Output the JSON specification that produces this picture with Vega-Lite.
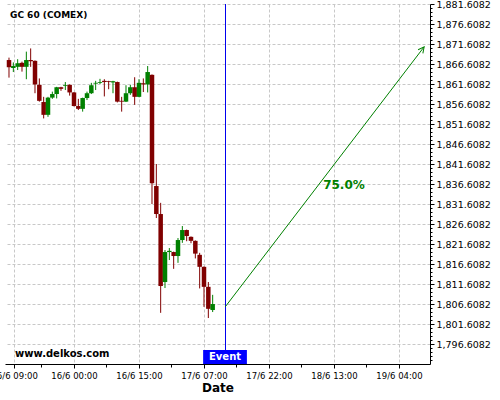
{
  "$schema": "https://vega.github.io/schema/vega-lite/v6.json",
  "width": 425,
  "height": 360,
  "autosize": {"type": "none"},
  "padding": {"left": 5, "top": 4, "right": 70, "bottom": 36},
  "background": "white",
  "config": {
    "view": {"stroke": null},
    "font": "DejaVu Sans",
    "scale": {"continuousPadding": 0},
    "axis": {"domainColor": "#000", "tickColor": "#000", "labelColor": "#000", "titleColor": "#000", "labelFont": "DejaVu Sans", "titleFont": "DejaVu Sans", "gridColor": "#c8c8c8", "gridDash": [3, 2], "gridWidth": 1, "domainWidth": 1, "tickWidth": 1}
  },
  "datasets": {
    "candles": [
      {"k": -15, "o": 1867.6, "h": 1868.2, "l": 1863.2, "c": 1865.8},
      {"k": -14, "o": 1865.6, "h": 1867.0, "l": 1864.6, "c": 1866.1},
      {"k": -13, "o": 1865.9, "h": 1867.8, "l": 1865.1, "c": 1866.8},
      {"k": -12, "o": 1866.9, "h": 1867.2, "l": 1864.7, "c": 1865.9},
      {"k": -11, "o": 1865.9, "h": 1869.7, "l": 1862.8, "c": 1867.6},
      {"k": -10, "o": 1867.6, "h": 1870.5, "l": 1865.9, "c": 1867.3},
      {"k": -9, "o": 1867.4, "h": 1867.5, "l": 1859.3, "c": 1861.5},
      {"k": -8, "o": 1861.4, "h": 1863.0, "l": 1857.2, "c": 1857.4},
      {"k": -7, "o": 1857.1, "h": 1858.4, "l": 1853.0, "c": 1853.9},
      {"k": -6, "o": 1853.9, "h": 1858.4, "l": 1853.4, "c": 1858.2},
      {"k": -5, "o": 1858.2, "h": 1859.7, "l": 1857.9, "c": 1859.1},
      {"k": -4, "o": 1859.1, "h": 1860.9, "l": 1858.0, "c": 1860.8},
      {"k": -3, "o": 1860.8, "h": 1860.9, "l": 1859.9, "c": 1860.4},
      {"k": -2, "o": 1861.1, "h": 1862.1, "l": 1860.1, "c": 1861.3},
      {"k": -1, "o": 1861.4, "h": 1861.5, "l": 1858.7, "c": 1859.5},
      {"k": 0, "o": 1859.5, "h": 1859.6, "l": 1856.0, "c": 1856.1},
      {"k": 1, "o": 1856.1, "h": 1857.9, "l": 1855.1, "c": 1855.4},
      {"k": 2, "o": 1855.4, "h": 1858.2, "l": 1854.7, "c": 1858.1},
      {"k": 3, "o": 1858.1, "h": 1859.7, "l": 1857.6, "c": 1859.3},
      {"k": 4, "o": 1859.3, "h": 1861.9, "l": 1859.1, "c": 1861.3},
      {"k": 5, "o": 1861.7, "h": 1862.4, "l": 1860.1, "c": 1861.9},
      {"k": 6, "o": 1861.9, "h": 1862.9, "l": 1861.6, "c": 1862.1},
      {"k": 7, "o": 1862.4, "h": 1862.8, "l": 1858.5, "c": 1862.1},
      {"k": 8, "o": 1862.3, "h": 1862.4, "l": 1860.3, "c": 1862.1},
      {"k": 9, "o": 1862.0, "h": 1862.4, "l": 1859.3, "c": 1862.3},
      {"k": 10, "o": 1862.1, "h": 1862.2, "l": 1857.0, "c": 1857.2},
      {"k": 11, "o": 1857.4, "h": 1858.4, "l": 1854.7, "c": 1857.2},
      {"k": 12, "o": 1857.2, "h": 1861.3, "l": 1857.1, "c": 1859.3},
      {"k": 13, "o": 1859.3, "h": 1861.4, "l": 1858.9, "c": 1860.8},
      {"k": 14, "o": 1860.8, "h": 1863.3, "l": 1856.4, "c": 1858.4},
      {"k": 15, "o": 1858.4, "h": 1862.8, "l": 1858.3, "c": 1861.9},
      {"k": 16, "o": 1861.8, "h": 1863.0, "l": 1859.6, "c": 1861.5},
      {"k": 17, "o": 1861.5, "h": 1866.1, "l": 1859.5, "c": 1864.6},
      {"k": 18, "o": 1863.9, "h": 1864.0, "l": 1831.6, "c": 1836.8},
      {"k": 19, "o": 1836.1, "h": 1841.6, "l": 1828.1, "c": 1829.1},
      {"k": 20, "o": 1829.1, "h": 1831.9, "l": 1804.4, "c": 1811.1},
      {"k": 21, "o": 1812.1, "h": 1820.1, "l": 1810.6, "c": 1819.6},
      {"k": 22, "o": 1819.6, "h": 1820.6, "l": 1817.6, "c": 1819.9},
      {"k": 23, "o": 1819.6, "h": 1819.7, "l": 1815.4, "c": 1818.6},
      {"k": 24, "o": 1818.6, "h": 1823.1, "l": 1816.9, "c": 1822.6},
      {"k": 25, "o": 1822.6, "h": 1826.1, "l": 1821.9, "c": 1825.1},
      {"k": 26, "o": 1825.1, "h": 1825.2, "l": 1822.3, "c": 1823.6},
      {"k": 27, "o": 1823.4, "h": 1823.5, "l": 1821.8, "c": 1822.4},
      {"k": 28, "o": 1822.4, "h": 1822.5, "l": 1818.0, "c": 1819.2},
      {"k": 29, "o": 1818.9, "h": 1819.4, "l": 1810.5, "c": 1815.9},
      {"k": 30, "o": 1815.9, "h": 1816.0, "l": 1805.9, "c": 1810.9},
      {"k": 31, "o": 1810.9, "h": 1812.1, "l": 1803.1, "c": 1805.4},
      {"k": 32, "o": 1805.1, "h": 1808.9, "l": 1804.6, "c": 1806.6}
    ],
    "arrow": [
      {"x": 34.9, "y": 1805.9},
      {"x": 80.8, "y": 1870.9}
    ],
    "arrowhead": [{"x": 80.8, "y": 1870.9}],
    "event": [{"x": 34.965}],
    "eventbox": [{"x": 29.8, "x2": 39.9, "y": 1791.6082, "y2": 1795.1, "yt": 1793.4, "xt": 34.85, "t": "Event"}],
    "labels": [
      {"x": 62.3, "y": 1836.4, "t": "75.0%"}
    ],
    "title": [{"x": -14.77, "y": 1878.9, "t": "GC 60 (COMEX)"}],
    "watermark": [{"x": -13.6, "y": 1794.1, "t": "www.delkos.com"}]
  },
  "layer": [
    {
      "data": {"name": "candles"},
      "mark": {"type": "rule", "strokeWidth": 1},
      "encoding": {
        "x": {
          "field": "k", "type": "quantitative",
          "scale": {"domain": [-15.923, 82.154], "nice": false, "zero": false, "padding": 0},
          "axis": {
            "orient": "bottom",
            "title": "Date",
            "titleFontSize": 12,
            "titleFontWeight": "bold",
            "titlePadding": 3,
            "values": [-13.8, -7.5, 0, 7.5, 15, 22.5, 30, 37.5, 45, 52.5, 60, 67.5, 75],
            "tickCount": 1000,
            "labelExpr": "datum.value < -10 ? '15/6 09:00' : datum.value == 0 ? '16/6 00:00' : datum.value == 15 ? '16/6 15:00' : datum.value == 30 ? '17/6 07:00' : datum.value == 45 ? '17/6 22:00' : datum.value == 60 ? '18/6 13:00' : datum.value == 75 ? '19/6 04:00' : ''",
            "labelFontSize": 8.5,
            "labelFlush": false,
            "labelOverlap": false,
            "labelBound": false,
            "labelPadding": 3,
            "tickSize": {"condition": {"test": "datum.value % 15 == 0 || datum.value < -10", "value": 4}, "value": 3},
            "grid": true,
            "gridOpacity": {"condition": {"test": "datum.value % 15 == 0 || datum.value < -10", "value": 1}, "value": 0}
          }
        },
        "y": {
          "field": "l", "type": "quantitative",
          "scale": {"domain": [1791.6082, 1881.6082], "nice": false, "zero": false, "padding": 0},
          "axis": {
            "orient": "right",
            "title": null,
            "values": [1792.6082,1793.6082,1794.6082,1795.6082,1796.6082,1797.6082,1798.6082,1799.6082,1800.6082,1801.6082,1802.6082,1803.6082,1804.6082,1805.6082,1806.6082,1807.6082,1808.6082,1809.6082,1810.6082,1811.6082,1812.6082,1813.6082,1814.6082,1815.6082,1816.6082,1817.6082,1818.6082,1819.6082,1820.6082,1821.6082,1822.6082,1823.6082,1824.6082,1825.6082,1826.6082,1827.6082,1828.6082,1829.6082,1830.6082,1831.6082,1832.6082,1833.6082,1834.6082,1835.6082,1836.6082,1837.6082,1838.6082,1839.6082,1840.6082,1841.6082,1842.6082,1843.6082,1844.6082,1845.6082,1846.6082,1847.6082,1848.6082,1849.6082,1850.6082,1851.6082,1852.6082,1853.6082,1854.6082,1855.6082,1856.6082,1857.6082,1858.6082,1859.6082,1860.6082,1861.6082,1862.6082,1863.6082,1864.6082,1865.6082,1866.6082,1867.6082,1868.6082,1869.6082,1870.6082,1871.6082,1872.6082,1873.6082,1874.6082,1875.6082,1876.6082,1877.6082,1878.6082,1879.6082,1880.6082,1881.6082],
            "tickCount": 1000,
            "labelExpr": "abs((datum.value - 1796.6082) / 5 - round((datum.value - 1796.6082) / 5)) < 0.01 ? format(datum.value, ',.4f') : ''",
            "labelFontSize": 9.5,
            "labelOverlap": false,
            "labelFlush": false,
            "labelPadding": 2,
            "tickSize": {"condition": {"test": "abs((datum.value - 1796.6082) / 5 - round((datum.value - 1796.6082) / 5)) < 0.01", "value": 4}, "value": 2},
            "grid": true,
            "gridOpacity": {"condition": {"test": "abs((datum.value - 1796.6082) / 5 - round((datum.value - 1796.6082) / 5)) < 0.01", "value": 1}, "value": 0}
          }
        },
        "y2": {"field": "h"},
        "color": {"condition": {"test": "datum.c < datum.o", "value": "#800000"}, "value": "#008000"}
      }
    },
    {
      "data": {"name": "candles"},
      "mark": {"type": "bar", "size": 4.5},
      "encoding": {
        "x": {"field": "k", "type": "quantitative", "scale": {"domain": [-15.923, 82.154], "nice": false, "zero": false, "padding": 0}},
        "y": {"field": "o", "type": "quantitative", "scale": {"domain": [1791.6082, 1881.6082], "nice": false, "zero": false, "padding": 0}},
        "y2": {"field": "c"},
        "color": {"condition": {"test": "datum.c < datum.o", "value": "#800000"}, "value": "#008000"}
      }
    },
    {
      "data": {"name": "event"},
      "mark": {"type": "rule", "color": "#0000ee", "strokeWidth": 1},
      "encoding": {
        "x": {"field": "x", "type": "quantitative", "scale": {"domain": [-15.923, 82.154], "nice": false, "zero": false, "padding": 0}}
      }
    },
    {
      "data": {"name": "arrow"},
      "mark": {"type": "line", "color": "#008000", "strokeWidth": 1},
      "encoding": {
        "x": {"field": "x", "type": "quantitative", "scale": {"domain": [-15.923, 82.154], "nice": false, "zero": false, "padding": 0}},
        "y": {"field": "y", "type": "quantitative", "scale": {"domain": [1791.6082, 1881.6082], "nice": false, "zero": false, "padding": 0}}
      }
    },
    {
      "data": {"name": "arrowhead"},
      "mark": {"type": "point", "shape": "M-0.6,1.2L0,0L0.6,1.2", "filled": false, "angle": 37.4, "size": 100, "color": "#008000", "strokeWidth": 1, "opacity": 1},
      "encoding": {
        "x": {"field": "x", "type": "quantitative", "scale": {"domain": [-15.923, 82.154], "nice": false, "zero": false, "padding": 0}},
        "y": {"field": "y", "type": "quantitative", "scale": {"domain": [1791.6082, 1881.6082], "nice": false, "zero": false, "padding": 0}}
      }
    },
    {
      "data": {"name": "labels"},
      "mark": {"type": "text", "color": "#008000", "fontSize": 12, "fontWeight": "bold", "align": "center", "baseline": "middle"},
      "encoding": {
        "x": {"field": "x", "type": "quantitative", "scale": {"domain": [-15.923, 82.154], "nice": false, "zero": false, "padding": 0}},
        "y": {"field": "y", "type": "quantitative", "scale": {"domain": [1791.6082, 1881.6082], "nice": false, "zero": false, "padding": 0}},
        "text": {"field": "t"}
      }
    },
    {
      "data": {"name": "eventbox"},
      "mark": {"type": "rect", "color": "#0000ff"},
      "encoding": {
        "x": {"field": "x", "type": "quantitative", "scale": {"domain": [-15.923, 82.154], "nice": false, "zero": false, "padding": 0}},
        "x2": {"field": "x2"},
        "y": {"field": "y", "type": "quantitative", "scale": {"domain": [1791.6082, 1881.6082], "nice": false, "zero": false, "padding": 0}},
        "y2": {"field": "y2"}
      }
    },
    {
      "data": {"name": "eventbox"},
      "mark": {"type": "text", "color": "#ffffff", "fontSize": 10, "fontWeight": "bold", "align": "center", "baseline": "middle"},
      "encoding": {
        "x": {"field": "xt", "type": "quantitative", "scale": {"domain": [-15.923, 82.154], "nice": false, "zero": false, "padding": 0}},
        "y": {"field": "yt", "type": "quantitative", "scale": {"domain": [1791.6082, 1881.6082], "nice": false, "zero": false, "padding": 0}},
        "text": {"field": "t"}
      }
    },
    {
      "data": {"name": "title"},
      "mark": {"type": "text", "color": "#000000", "fontSize": 9, "fontWeight": "bold", "align": "left", "baseline": "middle"},
      "encoding": {
        "x": {"field": "x", "type": "quantitative", "scale": {"domain": [-15.923, 82.154], "nice": false, "zero": false, "padding": 0}},
        "y": {"field": "y", "type": "quantitative", "scale": {"domain": [1791.6082, 1881.6082], "nice": false, "zero": false, "padding": 0}},
        "text": {"field": "t"}
      }
    },
    {
      "data": {"name": "watermark"},
      "mark": {"type": "text", "color": "#000000", "fontSize": 10, "fontWeight": "bold", "align": "left", "baseline": "middle"},
      "encoding": {
        "x": {"field": "x", "type": "quantitative", "scale": {"domain": [-15.923, 82.154], "nice": false, "zero": false, "padding": 0}},
        "y": {"field": "y", "type": "quantitative", "scale": {"domain": [1791.6082, 1881.6082], "nice": false, "zero": false, "padding": 0}},
        "text": {"field": "t"}
      }
    }
  ]
}
